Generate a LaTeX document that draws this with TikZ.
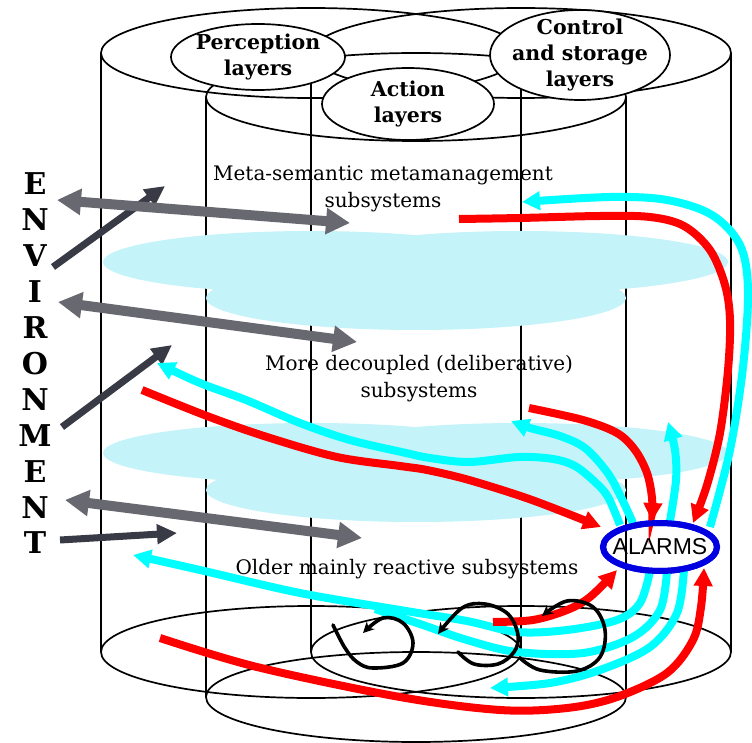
\documentclass[tikz,border=0pt]{standalone}
\usepackage{fontspec}
\setmainfont{DejaVu Serif}
\newfontfamily\alarmfont{Liberation Sans}
\usetikzlibrary{arrows.meta,shapes.geometric}
\definecolor{cloudcyan}{RGB}{196,243,249}
\definecolor{flowcyan}{RGB}{0,255,255}
\definecolor{flowred}{RGB}{255,0,0}
\definecolor{envgray}{RGB}{104,104,112}
\definecolor{envdark}{RGB}{56,58,70}
\definecolor{alarmblue}{RGB}{0,0,225}
\begin{document}
\begin{tikzpicture}[x=1pt,y=-1pt,
  wall/.style={line width=1.7pt},
  ring/.style={ellipse, draw, line width=1.7pt, fill=white, inner sep=0},
  ringtext/.style={font=\fontsize{20.5}{26}\selectfont\bfseries, align=center, inner sep=0},
  layertext/.style={font=\fontsize{20}{27}\selectfont, align=center, inner sep=0},
  envletter/.style={font=\fontsize{30}{30}\selectfont\bfseries, inner sep=0},
  redflow/.style={draw=flowred, line width=8pt, -{Triangle[length=18pt,width=18pt]}},
  cyanflow/.style={draw=flowcyan, line width=8pt, -{Triangle[length=18pt,width=18pt]}},
  cyanband/.style={draw=flowcyan, line width=8pt},
  twoway/.style={draw=envgray, line width=10pt, {Triangle[length=24pt,width=25pt]}-{Triangle[length=24pt,width=25pt]}},
  inward/.style={draw=envdark, line width=7pt, -{Triangle[length=20pt,width=19pt]}},
  loopy/.style={draw=black, line width=3.6pt, line cap=round, -{Stealth[length=11pt,width=11pt]}},
  alarmring/.style={ellipse, draw=alarmblue, line width=6pt, minimum width=114pt, minimum height=48pt, inner sep=0}
]
\useasboundingbox (0,0) rectangle (752,743);

% three cylinders: perception (left), control and storage (right), action (front)
\draw[wall] (311,53) ellipse [x radius=210, y radius=45];
\draw[wall] (521,53) ellipse [x radius=210, y radius=45];
\draw[wall] (101,53) -- (101,652) (521,53) -- (521,652);
\draw[wall] (311,53) -- (311,652) (731,53) -- (731,652);
\draw[wall] (311,652) ellipse [x radius=210, y radius=46];
\draw[wall] (521,652) ellipse [x radius=210, y radius=46];
\draw[wall] (416,97) ellipse [x radius=210, y radius=44];
\draw[wall] (206,97) -- (206,697) (626,97) -- (626,697);
\draw[wall] (416,697) ellipse [x radius=210, y radius=45];

% labelled rings on the cylinder tops
\node[ring, minimum width=174pt, minimum height=66pt] (perc) at (258,57) {};
\node[ringtext] (perctext) at (perc) {Perception\\layers};
\node[ring, minimum width=180pt, minimum height=90pt] (ctrl) at (580,55) {};
\node[ringtext] (ctrltext) at (ctrl) {Control\\and storage\\layers};
\node[ring, minimum width=172pt, minimum height=72pt] (act) at (408,104) {};
\node[ringtext] (acttext) at (act) {Action\\layers};

% translucent layer boundaries
\fill[cloudcyan] (311,262) ellipse [x radius=208, y radius=31]
                 (520,262) ellipse [x radius=208, y radius=31]
                 (416,298) ellipse [x radius=210, y radius=32];
\fill[cloudcyan] (311,453) ellipse [x radius=208, y radius=30]
                 (520,453) ellipse [x radius=208, y radius=30]
                 (416,490) ellipse [x radius=210, y radius=32];

% layer names
\node[layertext] (metatext) at (383,189) {Meta-semantic metamanagement\\subsystems};
\node[layertext] (deltext) at (419,379) {More decoupled (deliberative)\\subsystems};
\node[layertext] (reacttext) at (407,569) {Older mainly reactive subsystems};

% ENVIRONMENT column
\foreach \ch [count=\i] in {E,N,V,I,R,O,N,M,E,N,T}
  \node[envletter] (env\i) at (35,{184+35.9*(\i-1)}) {\ch};

% environment arrows
\coordinate (d1a) at (53,267);  \coordinate (d1b) at (165,186);
\coordinate (d2a) at (62,427);  \coordinate (d2b) at (172,345);
\coordinate (d3a) at (60,540);  \coordinate (d3b) at (177,533);
\coordinate (g1a) at (57,200);  \coordinate (g1b) at (350,223);
\coordinate (g2a) at (58,302);  \coordinate (g2b) at (357,342);
\coordinate (g3a) at (65,500);  \coordinate (g3b) at (362,538);
\draw[inward] (d1a) -- (d1b);
\draw[inward] (d2a) -- (d2b);
\draw[inward] (d3a) -- (d3b);
\draw[twoway] (g1a) -- (g1b);
\draw[twoway] (g2a) -- (g2b);
\draw[twoway] (g3a) -- (g3b);

% alarm system
\node[alarmring] (alarms) at (660,547) {};

\coordinate (c1s) at ([shift={(50,-20)}]alarms.center);
\coordinate (r1e) at ([shift={(33,-24)}]alarms.center);
\coordinate (c3s) at ([shift={(10,-26)}]alarms.center);
\coordinate (r2e) at ([shift={(-8,-26)}]alarms.center);
\coordinate (c2s) at ([shift={(-27,-24)}]alarms.center);
\coordinate (c4s) at ([shift={(-40,-22)}]alarms.center);
\coordinate (r3e) at ([shift={(-59,-20)}]alarms.center);
\coordinate (c5s) at ([shift={(-10,24)}]alarms.center);
\coordinate (c6s) at ([shift={(7,24)}]alarms.center);
\coordinate (c7s) at ([shift={(24,22)}]alarms.center);
\coordinate (r4e) at ([shift={(-43,23)}]alarms.center);
\coordinate (r5e) at ([shift={(44,21)}]alarms.center);

\coordinate (c1e) at (522,202);
\coordinate (r1s) at (459,219);
\coordinate (r2s) at (529,408);
\coordinate (c2e) at (511,421);
\coordinate (c3e) at (668,422);
\coordinate (c4e) at (157,363);
\coordinate (r3s) at (142,390);
\coordinate (c5e) at (133,555);
\coordinate (c7e) at (490,688);
\coordinate (r4s) at (493,622);
\coordinate (r5s) at (160,638);

% alarm outputs and inputs
\draw[cyanflow] plot[smooth,tension=.55] coordinates {(c1s) (730,450) (743,367) (748,290) (740,245) (712,215) (667,200) (610,197) (c1e)};
\draw[redflow] plot[smooth,tension=.55] coordinates {(r1s) (520,218) (600,216) (650,217) (684,226) (710,250) (725,285) (730,320) (728,370) (720,433) (707,485) (r1e)};
\draw[redflow] plot[smooth,tension=.55] coordinates {(r2s) (583,420) (617,433) (635,450) (647,473) (652,498) (r2e)};
\draw[cyanflow] plot[smooth,tension=.55] coordinates {(c2s) (620,495) (607,472) (585,448) (560,436) (530,428) (c2e)};
\draw[cyanflow] plot[smooth,tension=.55] coordinates {(c3s) (676,480) (675,450) (c3e)};
\draw[cyanflow] plot[smooth,tension=.55] coordinates {(c4s) (608,497) (595,482) (575,466) (553,459) (519,457) (469,462) (430,458) (406,453) (350,440) (300,423) (246,400) (200,383) (c4e)};
\draw[redflow] plot[smooth,tension=.55] coordinates {(r3s) (207,416) (267,437) (337,457) (400,466) (427,470) (469,480) (532,500) (r3e)};
\draw[cyanflow] plot[smooth,tension=.55] coordinates {(c5s) (640,603) (617,620) (567,630) (517,632) (467,621) (400,610) (300,593) (200,570) (c5e)};
\draw[cyanband] plot[smooth,tension=.55] coordinates {(c6s) (660,610) (633,637) (583,653) (517,652) (467,640) (420,624) (375,609)};
\draw[cyanflow] plot[smooth,tension=.55] coordinates {(c7s) (677,613) (650,647) (600,670) (550,683) (c7e)};
\draw[redflow] plot[smooth,tension=.55] coordinates {(r4s) (533,620) (567,610) (590,597) (r4e)};
\draw[redflow] plot[smooth,tension=.55] coordinates {(r5s) (257,667) (400,697) (500,710) (567,708) (617,697) (667,673) (693,640) (701,607) (r5e)};

% reactive loops
\draw[loopy] plot[smooth,tension=.6] coordinates {(333,625) (345,648) (357,662) (373,668) (403,663) (413,643) (403,623) (383,618) (363,633)};
\draw[loopy] plot[smooth,tension=.6] coordinates {(458,652) (474,664) (498,664) (514,652) (518,635) (508,614) (485,604) (462,608) (438,634)};
\draw[loopy] plot[smooth,tension=.6] coordinates {(520,658) (540,670) (577,671) (600,657) (605,630) (593,607) (567,601) (542,616)};

\node[alarmring] at (alarms) {};
\node[font=\alarmfont\fontsize{23}{23}\selectfont, inner sep=0] (alarmstext) at (alarms) {ALARMS};
\end{tikzpicture}
\end{document}
